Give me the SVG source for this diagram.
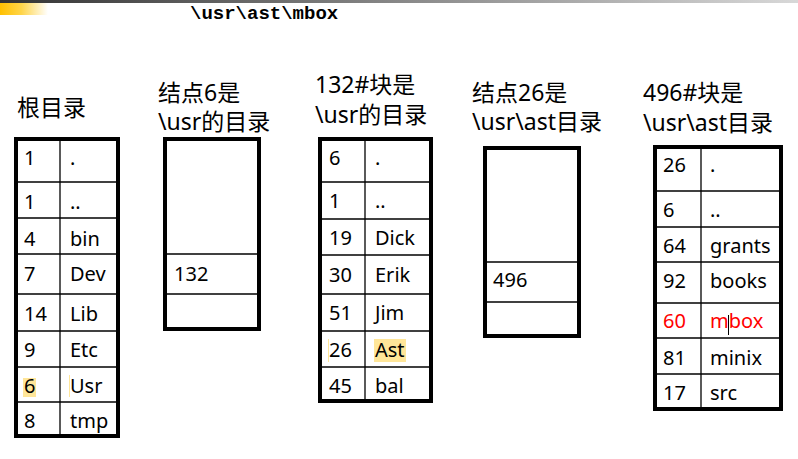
<svg xmlns="http://www.w3.org/2000/svg" width="798" height="459" viewBox="0 0 798 459">
<defs>
<linearGradient id="topbar" x1="0" y1="0" x2="1" y2="0">
<stop offset="0" stop-color="#333333"/>
<stop offset="0.5" stop-color="#888888"/>
<stop offset="1" stop-color="#d8d8d8"/>
</linearGradient>
<linearGradient id="yel" x1="0" y1="0" x2="1" y2="0">
<stop offset="0" stop-color="#FFC000"/>
<stop offset="0.45" stop-color="#FFD54A"/>
<stop offset="1" stop-color="#FFFFFF"/>
</linearGradient>
</defs>
<style>
.frame{fill:#fff;stroke:#000;stroke-width:4}
.ln{stroke:#000;stroke-width:1.3}
.t{font-family:"Noto Sans","DejaVu Sans",sans-serif;font-size:20px;fill:#000}
.h{font-family:"Noto Sans","Noto Sans CJK SC",sans-serif;font-size:23px;fill:#000}
.red{fill:#FF0000}
.hl{fill:#FFE699}
</style>
<rect width="798" height="459" fill="#fff"/>
<rect x="0" y="0" width="798" height="3" fill="url(#topbar)"/>
<rect x="0" y="3" width="48" height="12" fill="url(#yel)"/>
<text x="190" y="19" font-family="Liberation Mono,monospace" font-weight="bold" font-size="19" fill="#000">\usr\ast\mbox</text>

<g id="root">
<text class="h" x="17" y="116">根目录</text>
<rect class="frame" x="16" y="139" width="102" height="297"/>
<rect class="hl" x="23" y="378" width="13" height="19"/>
<line x1="69.5" y1="375" x2="69.5" y2="397" stroke="#FFE699" stroke-width="1"/>
<line class="ln" x1="60" y1="139" x2="60" y2="436"/>
<line class="ln" x1="16" y1="182" x2="118" y2="182"/>
<line class="ln" x1="16" y1="218" x2="118" y2="218"/>
<line class="ln" x1="16" y1="254" x2="118" y2="254"/>
<line class="ln" x1="16" y1="294" x2="118" y2="294"/>
<line class="ln" x1="16" y1="331" x2="118" y2="331"/>
<line class="ln" x1="16" y1="367" x2="118" y2="367"/>
<line class="ln" x1="16" y1="402" x2="118" y2="402"/>
<text class="t" x="24" y="165">1</text><text class="t" x="70" y="165">.</text>
<text class="t" x="24" y="209">1</text><text class="t" x="70" y="209">..</text>
<text class="t" x="24" y="246">4</text><text class="t" x="70" y="246">bin</text>
<text class="t" x="24" y="281">7</text><text class="t" x="70" y="281">Dev</text>
<text class="t" x="24" y="321">14</text><text class="t" x="70" y="321">Lib</text>
<text class="t" x="24" y="357">9</text><text class="t" x="70" y="357">Etc</text>
<text class="t" x="24" y="393">6</text><text class="t" x="70" y="393">Usr</text>
<text class="t" x="24" y="428">8</text><text class="t" x="70" y="428">tmp</text>
</g>

<g id="inode6">
<text class="h" x="158" y="101">结点6是</text>
<text class="h" x="158" y="130">\usr的目录</text>
<rect class="frame" x="165" y="139" width="94" height="190"/>
<line class="ln" x1="165" y1="254" x2="259" y2="254"/>
<line class="ln" x1="165" y1="294" x2="259" y2="294"/>
<text class="t" x="174" y="281">132</text>
</g>

<g id="block132">
<text class="h" x="315" y="93">132#块是</text>
<text class="h" x="315" y="123">\usr的目录</text>
<rect class="frame" x="320" y="139" width="111" height="262"/>
<rect class="hl" x="374" y="339" width="32" height="23"/>
<line x1="328.5" y1="339" x2="328.5" y2="362" stroke="#FFE699" stroke-width="1"/>
<line class="ln" x1="365" y1="139" x2="365" y2="401"/>
<line class="ln" x1="320" y1="182" x2="431" y2="182"/>
<line class="ln" x1="320" y1="219" x2="431" y2="219"/>
<line class="ln" x1="320" y1="255" x2="431" y2="255"/>
<line class="ln" x1="320" y1="294" x2="431" y2="294"/>
<line class="ln" x1="320" y1="331" x2="431" y2="331"/>
<line class="ln" x1="320" y1="367" x2="431" y2="367"/>
<text class="t" x="329" y="165">6</text><text class="t" x="375" y="165">.</text>
<text class="t" x="329" y="208">1</text><text class="t" x="375" y="208">..</text>
<text class="t" x="329" y="245">19</text><text class="t" x="375" y="245">Dick</text>
<text class="t" x="329" y="282">30</text><text class="t" x="375" y="282">Erik</text>
<text class="t" x="329" y="320">51</text><text class="t" x="375" y="320">Jim</text>
<text class="t" x="329" y="357">26</text><text class="t" x="375" y="357">Ast</text>
<text class="t" x="329" y="393">45</text><text class="t" x="375" y="393">bal</text>
</g>

<g id="inode26">
<text class="h" x="472" y="101">结点26是</text>
<text class="h" x="472" y="130">\usr\ast目录</text>
<rect class="frame" x="485" y="148" width="94" height="188"/>
<line class="ln" x1="485" y1="262" x2="579" y2="262"/>
<line class="ln" x1="485" y1="302" x2="579" y2="302"/>
<text class="t" x="493" y="287">496</text>
</g>

<g id="block496">
<text class="h" x="643" y="101">496#块是</text>
<text class="h" x="643" y="131">\usr\ast目录</text>
<rect class="frame" x="655" y="147" width="126" height="262"/>
<line class="ln" x1="701" y1="147" x2="701" y2="409"/>
<line class="ln" x1="655" y1="191" x2="781" y2="191"/>
<line class="ln" x1="655" y1="227" x2="781" y2="227"/>
<line class="ln" x1="655" y1="262" x2="781" y2="262"/>
<line class="ln" x1="655" y1="303" x2="781" y2="303"/>
<line class="ln" x1="655" y1="338" x2="781" y2="338"/>
<line class="ln" x1="655" y1="374" x2="781" y2="374"/>
<text class="t" x="663" y="172">26</text><text class="t" x="710" y="172">.</text>
<text class="t" x="663" y="217">6</text><text class="t" x="710" y="217">..</text>
<text class="t" x="663" y="253">64</text><text class="t" x="710" y="253">grants</text>
<text class="t" x="663" y="288">92</text><text class="t" x="710" y="288">books</text>
<text class="t red" x="663" y="328">60</text><text class="t red" x="710" y="328">mbox</text>
<line x1="728.5" y1="315" x2="728.5" y2="335" stroke="#000" stroke-width="1"/>
<text class="t" x="663" y="365">81</text><text class="t" x="710" y="365">minix</text>
<text class="t" x="663" y="400">17</text><text class="t" x="710" y="400">src</text>
</g>
<g id="connectors"/>
</svg>
